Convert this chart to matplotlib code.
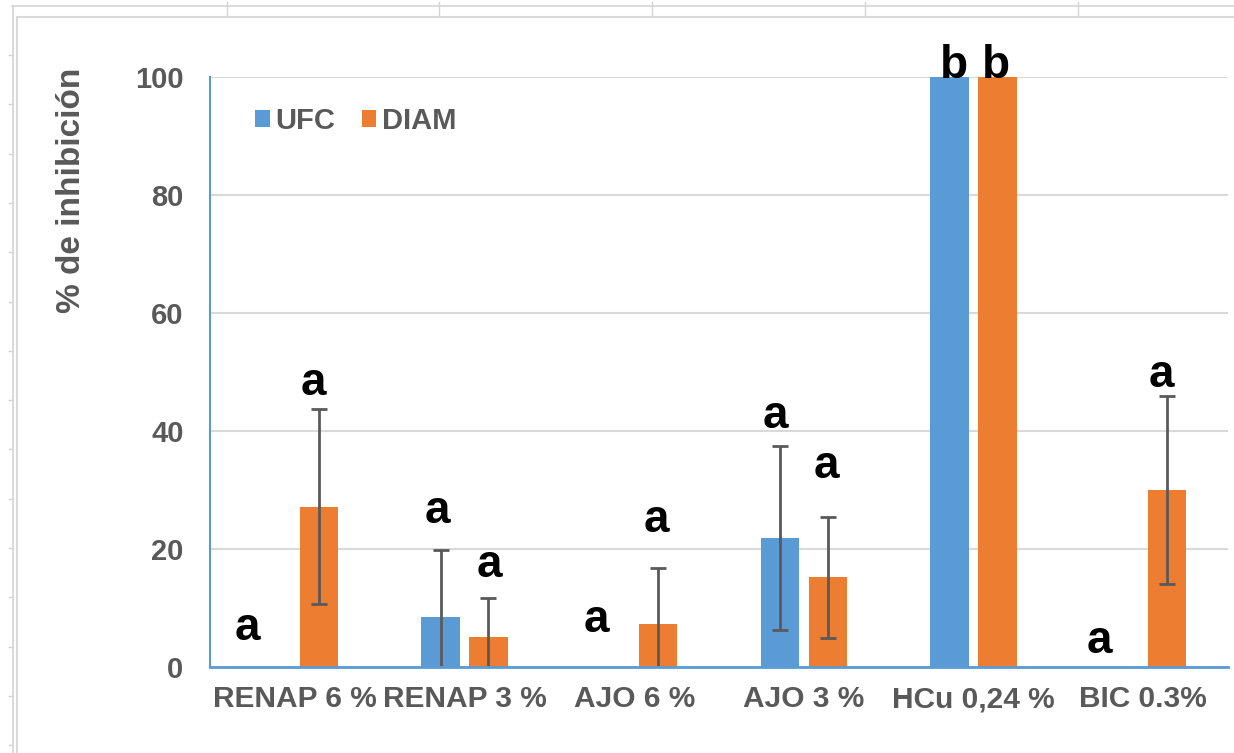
import matplotlib
matplotlib.use("Agg")
import matplotlib.pyplot as plt
from matplotlib.lines import Line2D
from matplotlib.transforms import offset_copy
import numpy as np

plt.rcParams['font.family'] = ['Liberation Sans', 'DejaVu Sans']

# ---- data ----
categories = ["RENAP 6 %", "RENAP 3 %", "AJO 6 %", "AJO 3 %", "HCu 0,24 %", "BIC 0.3%"]
ufc = [0, 8.5, 0, 21.9, 100, 0]
ufc_err = [0, 11.4, 0, 15.6, 0, 0]
diam = [27.2, 5.1, 7.3, 15.2, 100, 30.0]
diam_err = [16.5, 6.6, 9.5, 10.2, 0, 15.9]
ufc_letters = ["a", "a", "a", "a", "b", "a"]
diam_letters = ["a", "a", "a", "a", "b", "a"]
ufc_letter_y = [4.6, 24.4, 5.9, 40.5, 99.8, 2.4]
diam_letter_y = [46.1, 15.3, 22.9, 32.0, 99.8, 47.5]
yticks = [0, 20, 40, 60, 80, 100]

# ---- style ----
W, H = 1234, 753
BLUE = '#5B9BD5'
ORANGE = '#ED7D31'
GRAY = '#595959'
GRID = '#D9D9D9'
SHEET = '#D4D4D4'

fig = plt.figure(figsize=(W / 100, H / 100), dpi=100)
fig.patch.set_facecolor('white')

def fx(px):
    return px / W

def fy(py):
    return 1 - py / H

# spreadsheet decorations around the chart
deco = []
deco.append(Line2D([fx(12), 1], [fy(6), fy(6)], color=SHEET, lw=1.2))
for xv in [227, 439, 652, 865, 1078]:
    deco.append(Line2D([fx(xv), fx(xv)], [fy(2), fy(15)], color=SHEET, lw=1.0))
deco.append(Line2D([fx(13), fx(13)], [fy(6), 0], color=SHEET, lw=1.2))
for k in range(15):
    yv = 55 + 49.3 * k
    deco.append(Line2D([fx(9), fx(13)], [fy(yv), fy(yv)], color=SHEET, lw=1.0))
# chart area border
deco.append(Line2D([fx(16.5), 1], [fy(16.5), fy(16.5)], color=GRID, lw=1.5))
deco.append(Line2D([fx(16.5), fx(16.5)], [fy(16.5), 0], color=GRID, lw=1.5))
for ln in deco:
    fig.add_artist(ln)

left, right = 210, 1228
top, bottom = 77, 667
ax = fig.add_axes([fx(left), fy(bottom), fx(right) - fx(left), fy(top) - fy(bottom)])

x = np.arange(len(categories))
off = 0.141
bw = 0.225

ax.bar(x - off, ufc, bw, color=BLUE, label='UFC', zorder=3)
ax.bar(x + off, diam, bw, color=ORANGE, label='DIAM', zorder=3)

ufc_arr = np.array(ufc, dtype=float)
diam_arr = np.array(diam, dtype=float)
ue = np.array(ufc_err, dtype=float)
de = np.array(diam_err, dtype=float)
mu = ue > 0
md = de > 0
ax.errorbar((x - off)[mu], ufc_arr[mu], yerr=ue[mu], fmt='none', ecolor=GRAY,
            elinewidth=2, capsize=5.5, capthick=2, zorder=4)
ax.errorbar((x + off)[md], diam_arr[md], yerr=de[md], fmt='none', ecolor=GRAY,
            elinewidth=2, capsize=5.5, capthick=2, zorder=4)

# significance letters
ufc_dx = [-17, -2, -10, -3, 3, -14]
diam_dx = [-4, 1, -1, -1, -1, -4]
for i in range(len(categories)):
    t1 = offset_copy(ax.transData, fig=fig, x=ufc_dx[i], y=0, units='points')
    ax.text(x[i] - off, ufc_letter_y[i], ufc_letters[i], transform=t1,
            ha='center', va='baseline', fontsize=33, fontweight='bold',
            color='black', clip_on=False, zorder=5)
    t2 = offset_copy(ax.transData, fig=fig, x=diam_dx[i], y=0, units='points')
    ax.text(x[i] + off, diam_letter_y[i], diam_letters[i], transform=t2,
            ha='center', va='baseline', fontsize=33, fontweight='bold',
            color='black', clip_on=False, zorder=5)

ax.set_xlim(-0.5, len(categories) - 0.5)
ax.set_ylim(0, 100)
ax.set_yticks(yticks)
ax.set_yticklabels([str(v) for v in yticks])
ax.set_xticks(x)
ax.set_xticklabels(categories)

ax.tick_params(axis='y', length=0, pad=19, labelsize=21, labelcolor=GRAY)
ax.tick_params(axis='x', length=0, pad=13, labelsize=21.5, labelcolor=GRAY)
for lab in ax.get_xticklabels() + ax.get_yticklabels():
    lab.set_fontweight('bold')

ax.grid(axis='y', color=GRID, lw=1.5, zorder=0)
ax.set_axisbelow(True)
for s in ['top', 'right']:
    ax.spines[s].set_visible(False)
ax.spines['left'].set_color(BLUE)
ax.spines['left'].set_linewidth(1.5)
ax.spines['bottom'].set_color(BLUE)
ax.spines['bottom'].set_linewidth(2)
ax.spines['bottom'].set_zorder(6)

ax.set_ylabel('% de inhibición', fontsize=24, fontweight='bold', color=GRAY)
ax.yaxis.set_label_coords((87 - left) / (right - left), (bottom - 190) / (bottom - top))

leg = ax.legend(loc='center left', bbox_to_anchor=((255 - left) / (right - left), (bottom - 121) / (bottom - top)),
                ncol=2, frameon=False, borderpad=0, borderaxespad=0,
                handlelength=0.5, handleheight=0.5, handletextpad=0.2,
                columnspacing=0.9, prop={'size': 21, 'weight': 'bold'})
for t in leg.get_texts():
    t.set_color(GRAY)

fig.savefig('out.png', dpi=100, facecolor='white')
